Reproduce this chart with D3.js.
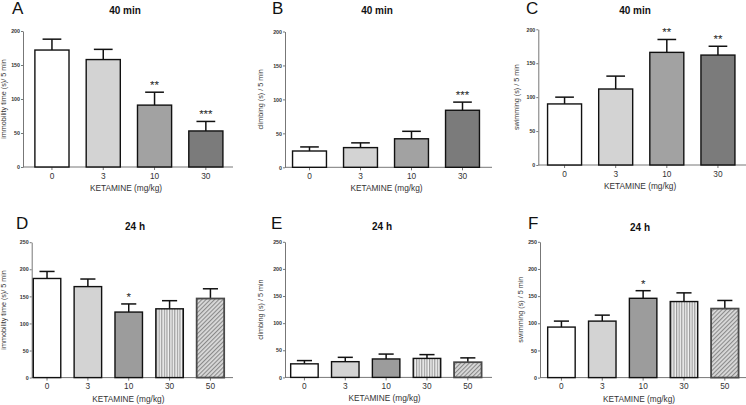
<!DOCTYPE html>
<html><head><meta charset="utf-8">
<script src="https://cdn.jsdelivr.net/npm/d3@7"></script>
<style>
body{margin:0;background:#fff;}
svg{display:block;font-family:"Liberation Sans",Arial,sans-serif;}
text{-webkit-font-smoothing:antialiased;}
</style></head>
<body><svg id="c" width="746" height="405"></svg>
<script>
// ---------- data ----------
const doses40 = ["0","3","10","30"];
const doses24 = ["0","3","10","30","50"];
const yTicks200 = [0,50,100,150,200];
const yTicks250 = [0,50,100,150,200,250];

const immob40 = [172,158,91,53];
const immob40Err = [16,15,19,14];
const immob40Sig = ["","","**","***"];

const climb40 = [24,29,42,84];
const climb40Err = [6,7,11,12];
const climb40Sig = ["","","","***"];

const swim40 = [90,112,166,162];
const swim40Err = [10,19,19,13];
const swim40Sig = ["","","**","**"];

const immob24 = [183,168,121,127,146];
const immob24Err = [13,14,15,15,18];
const immob24Sig = ["","","*","",""];

const climb24 = [25,29,34,35,28];
const climb24Err = [6,8,9,7,8];
const climb24Sig = ["","","","",""];

const swim24 = [93,104,146,140,127];
const swim24Err = [11,11,14,16,15];
const swim24Sig = ["","","*","",""];

const panelLetters = ["A","B","C","D","E","F"];
const panelTitles = ["40 min","40 min","40 min","24 h","24 h","24 h"];
const yLabels = ["immobility time (s)/ 5 min","climbing (s) / 5 min","swimming (s) / 5 min",
                 "immobility time (s)/ 5 min","climbing (s) / 5 min","swimming (s) / 5 min"];
const xLabel = "KETAMINE (mg/kg)";

// ---------- styles per dose ----------
const fills = {"0":"#ffffff","3":"#d3d3d3","10":"#a2a2a2","30":"#7b7b7b"};
const fills24 = {"0":"#ffffff","3":"#d3d3d3","10":"#9c9c9c","30":"url(#vstripe)","50":"url(#dstripe)"};

const svg = d3.select("#c");
const defs = svg.append("defs");
const vp = defs.append("pattern").attr("id","vstripe").attr("patternUnits","userSpaceOnUse")
  .attr("width",2.6).attr("height",10);
vp.append("rect").attr("width",2.6).attr("height",10).attr("fill","#f2f2f2");
vp.append("rect").attr("x",0).attr("width",1.2).attr("height",10).attr("fill","#9a9a9a");
const dp = defs.append("pattern").attr("id","dstripe").attr("patternUnits","userSpaceOnUse")
  .attr("width",3).attr("height",3).attr("patternTransform","rotate(45)");
dp.append("rect").attr("width",3).attr("height",3).attr("fill","#dadada");
dp.append("rect").attr("x",0).attr("width",1.1).attr("height",3).attr("fill","#8a8a8a");

// ---------- layout ----------
const panels = [
 {cats:doses40, vals:immob40, err:immob40Err, sig:immob40Sig, ticks:yTicks200, max:200,
  axisX:23, yTop:31, yBot:167, r0:26.3, r1:231.5, axisEnd:233, titleX:125, titleY:14, letX:12, letY:14, ylabX:6, row:0},
 {cats:doses40, vals:climb40, err:climb40Err, sig:climb40Sig, ticks:yTicks200, max:200,
  axisX:285, yTop:31.5, yBot:167.3, r0:284, r1:488, axisEnd:492, titleX:377, titleY:14, letX:272, letY:14, ylabX:263, row:0},
 {cats:doses40, vals:swim40, err:swim40Err, sig:swim40Sig, ticks:yTicks200, max:200,
  axisX:538.3, yTop:29.3, yBot:165, r0:539, r1:743.5, axisEnd:746, titleX:635, titleY:14, letX:526, letY:14, ylabX:519, row:0},
 {cats:doses24, vals:immob24, err:immob24Err, sig:immob24Sig, ticks:yTicks250, max:250,
  axisX:31.7, yTop:242.2, yBot:377.6, r0:26.6, r1:230.85, axisEnd:233, titleX:135, titleY:230, letX:16, letY:229, ylabX:6, row:1},
 {cats:doses24, vals:climb24, err:climb24Err, sig:climb24Sig, ticks:yTicks250, max:250,
  axisX:285, yTop:241.8, yBot:377.4, r0:284, r1:488.25, axisEnd:492, titleX:382, titleY:230, letX:271, letY:229, ylabX:263, row:1},
 {cats:doses24, vals:swim24, err:swim24Err, sig:swim24Sig, ticks:yTicks250, max:250,
  axisX:540, yTop:241.8, yBot:377.6, r0:541, r1:745.25, axisEnd:746, titleX:640, titleY:231, letX:528, letY:229, ylabX:523, row:1}
];

panels.forEach((p,i)=>{
  const g = svg.append("g");
  const x = d3.scaleBand().domain(p.cats).range([p.r0,p.r1])
    .paddingInner(p.cats.length===4?0.335:0.327)
    .paddingOuter(p.cats.length===4?0.1675:0.1635);
  const y = d3.scaleLinear().domain([0,p.max]).range([p.yBot,p.yTop]);
  const bw = x.bandwidth();
  const fillMap = p.row===0 ? fills : fills24;

  // y axis
  const ya = g.append("g").attr("transform",`translate(${p.axisX},0)`)
    .call(d3.axisLeft(y).tickValues(p.ticks).tickSize(2).tickPadding(1).tickSizeOuter(0));
  ya.select(".domain").attr("stroke","#777").attr("stroke-width",1);
  ya.selectAll(".tick line").attr("stroke","#777");
  ya.selectAll(".tick text").attr("font-size",5.3).attr("font-weight","bold").attr("fill","#333")
    .attr("font-family","'Liberation Sans',Arial,sans-serif");

  // x axis
  const xa = g.append("g").attr("transform",`translate(0,${p.yBot})`)
    .call(d3.axisBottom(x).tickSize(3).tickPadding(3).tickSizeOuter(0));
  xa.select(".domain").remove();
  xa.selectAll(".tick line").attr("stroke","#777");
  xa.selectAll(".tick text").attr("font-size",8.3).attr("fill","#333")
    .attr("font-family","'Liberation Sans',Arial,sans-serif");
  g.append("line").attr("x1",p.axisX).attr("x2",p.axisEnd).attr("y1",p.yBot).attr("y2",p.yBot)
    .attr("stroke","#777").attr("stroke-width",1);

  // error bars
  const capW = bw*0.55;
  p.cats.forEach((c,j)=>{
    const cx = x(c)+bw/2;
    g.append("line").attr("x1",cx).attr("x2",cx).attr("y1",y(p.vals[j])).attr("y2",y(p.vals[j]+p.err[j]))
      .attr("stroke","#111").attr("stroke-width",1.5);
    g.append("line").attr("x1",cx-capW/2).attr("x2",cx+capW/2)
      .attr("y1",y(p.vals[j]+p.err[j])).attr("y2",y(p.vals[j]+p.err[j]))
      .attr("stroke","#111").attr("stroke-width",1.5);
  });

  // bars
  g.selectAll("rect.bar").data(p.cats).join("rect").attr("class","bar")
    .attr("x",c=>x(c)).attr("width",bw)
    .attr("y",(c,j)=>y(p.vals[j])).attr("height",(c,j)=>p.yBot-y(p.vals[j]))
    .attr("fill",c=>fillMap[c])
    .attr("stroke",c=>c==="50"?"#4a4a4a":"#111")
    .attr("stroke-width",c=>c==="50"?1.8:1.4);

  // significance
  p.cats.forEach((c,j)=>{
    if(!p.sig[j]) return;
    g.append("text").attr("x",x(c)+bw/2).attr("y",y(p.vals[j]+p.err[j])-3)
      .attr("text-anchor","middle").attr("font-size",11.5).attr("fill","#222")
      .attr("opacity",0.99).text(p.sig[j]);
  });

  // title, letter, labels
  g.append("text").attr("x",p.titleX).attr("y",p.titleY).attr("text-anchor","middle")
    .attr("font-size",10).attr("font-weight","bold").attr("fill","#111").text(panelTitles[i]);
  g.append("text").attr("x",p.letX).attr("y",p.letY).attr("font-size",17).attr("fill","#111").text(panelLetters[i]);
  g.append("text").attr("x",(p.axisX+p.axisEnd)/2 + (p.row===0?-2:-4)).attr("y",p.yBot+24)
    .attr("text-anchor","middle").attr("font-size",8.3).attr("fill","#333").text(xLabel);
  g.append("text").attr("transform",`translate(${p.ylabX},${(p.yTop+p.yBot)/2}) rotate(-90)`)
    .attr("text-anchor","middle").attr("font-size",7.2).attr("fill","#333").text(yLabels[i]);
});
</script></body></html>
